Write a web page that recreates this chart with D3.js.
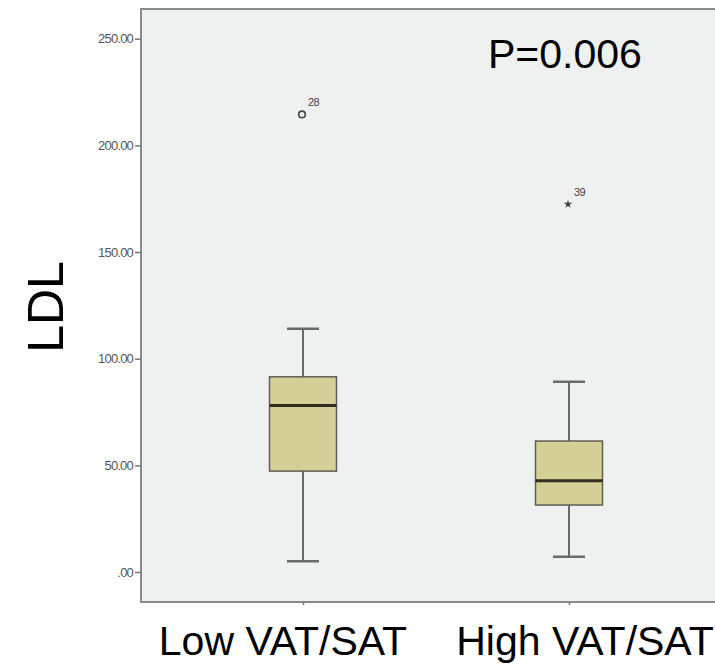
<!DOCTYPE html>
<html>
<head>
<meta charset="utf-8">
<script src="https://cdn.jsdelivr.net/npm/d3@7"></script>
<style>
  body { margin: 0; background: #fff; }
  svg { display: block; font-family: "Liberation Sans", Arial, sans-serif; }
</style>
</head>
<body>
<svg id="chart" width="715" height="668"></svg>
<script>
"use strict";

// data
var categories = ["Low VAT/SAT", "High VAT/SAT"];
var whiskerLow = [5, 7.2];
var q1 = [47.3, 31.4];
var medians = [78, 42.8];
var q3 = [91.5, 61.4];
var whiskerHigh = [114, 89.2];
var outlierValues = [214.5, 172.4];
var outlierIds = ["28", "39"];
var outlierKinds = ["circle", "star"];
var yTicks = [0, 50, 100, 150, 200, 250];
var pLabel = "P=0.006";

var svg = d3.select("#chart");

var frame = { l: 141, t: 9, r: 740, b: 602 };

var y = d3.scaleLinear().domain([0, 250]).range([572, 38.7]);
var x = d3.scalePoint().domain(categories).range([frame.l, 731]).padding(0.609);

var boxes = categories.map(function(c, i) {
  return { cat: c, lo: whiskerLow[i], q1: q1[i], med: medians[i], q3: q3[i], hi: whiskerHigh[i],
    out: outlierValues[i], id: outlierIds[i], kind: outlierKinds[i] };
});

// plot background
svg.append("rect")
  .attr("x", frame.l)
  .attr("y", frame.t)
  .attr("width", frame.r - frame.l)
  .attr("height", frame.b - frame.t)
  .attr("fill", "#eff0f0")
  .attr("stroke", "#8a8a8a")
  .attr("stroke-width", 2);

// y axis
var yAxis = svg.append("g")
  .attr("transform", "translate(" + frame.l + ",0)")
  .call(d3.axisLeft(y).tickValues(yTicks).tickSize(6).tickPadding(2)
    .tickFormat(function(d) { return d === 0 ? ".00" : d3.format(".2f")(d); }));
yAxis.select(".domain").remove();
yAxis.selectAll(".tick line").attr("stroke", "#777").attr("stroke-width", 1.5);
yAxis.selectAll(".tick text")
  .attr("fill", "#555")
  .style("font-size", "13px")
  .style("letter-spacing", "-0.8px");

// x axis ticks
var xAxis = svg.append("g")
  .attr("transform", "translate(0," + frame.b + ")")
  .call(d3.axisBottom(x).tickSize(3).tickFormat(""));
xAxis.select(".domain").remove();
xAxis.selectAll(".tick line").attr("stroke", "#777").attr("stroke-width", 1.5);

var boxW = 67, capW = 32;
var g = svg.append("g");

// whiskers
g.selectAll(".whisker")
  .data(boxes)
  .enter().append("line")
  .attr("x1", function(d) { return x(d.cat); })
  .attr("x2", function(d) { return x(d.cat); })
  .attr("y1", function(d) { return y(d.lo); })
  .attr("y2", function(d) { return y(d.hi); })
  .attr("stroke", "#6a6a6a")
  .attr("stroke-width", 2);

["lo", "hi"].forEach(function(k) {
  g.selectAll(".cap-" + k)
    .data(boxes)
    .enter().append("line")
    .attr("x1", function(d) { return x(d.cat) - capW / 2; })
    .attr("x2", function(d) { return x(d.cat) + capW / 2; })
    .attr("y1", function(d) { return y(d[k]); })
    .attr("y2", function(d) { return y(d[k]); })
    .attr("stroke", "#6a6a6a")
    .attr("stroke-width", 2.5);
});

// boxes
g.selectAll(".box")
  .data(boxes)
  .enter().append("rect")
  .attr("x", function(d) { return x(d.cat) - boxW / 2; })
  .attr("y", function(d) { return y(d.q3); })
  .attr("width", boxW)
  .attr("height", function(d) { return y(d.q1) - y(d.q3); })
  .attr("fill", "#d4cf96")
  .attr("stroke", "#5f5f58")
  .attr("stroke-width", 1.5);

// medians
g.selectAll(".median")
  .data(boxes)
  .enter().append("line")
  .attr("x1", function(d) { return x(d.cat) - boxW / 2; })
  .attr("x2", function(d) { return x(d.cat) + boxW / 2; })
  .attr("y1", function(d) { return y(d.med); })
  .attr("y2", function(d) { return y(d.med); })
  .attr("stroke", "#2e2d1f")
  .attr("stroke-width", 3);

// outliers
boxes.forEach(function(d) {
  var cx = x(d.cat) - 1, cy = y(d.out);
  if (d.kind === "circle") {
    g.append("circle")
      .attr("cx", cx).attr("cy", cy).attr("r", 3.3)
      .attr("fill", "none")
      .attr("stroke", "#444")
      .attr("stroke-width", 1.6);
  } else {
    g.append("path")
      .attr("d", d3.symbol().type(d3.symbolStar).size(22))
      .attr("transform", "translate(" + cx + "," + cy + ")")
      .attr("fill", "#444");
  }
  g.append("text")
    .attr("x", cx + 6)
    .attr("y", cy - 8)
    .attr("fill", "#444")
    .style("font-size", "11px")
    .style("letter-spacing", "-0.5px")
    .text(d.id);
});

// p value
svg.append("text")
  .attr("x", 488)
  .attr("y", 68)
  .attr("fill", "#000")
  .style("font-size", "41px")
  .text(pLabel);

// y axis title
svg.append("text")
  .attr("transform", "translate(63,307) rotate(-90)")
  .attr("text-anchor", "middle")
  .attr("fill", "#000")
  .style("font-size", "50px")
  .text("LDL");

// category labels (hand-placed under the chart)
var labelNudge = [-20, 16];
svg.selectAll(".cat-label")
  .data(categories)
  .enter().append("text")
  .attr("x", function(d, i) { return x(d) + labelNudge[i]; })
  .attr("y", 655)
  .attr("text-anchor", "middle")
  .attr("fill", "#000")
  .style("font-size", "41px")
  .text(function(d) { return d; });
</script>
</body>
</html>
